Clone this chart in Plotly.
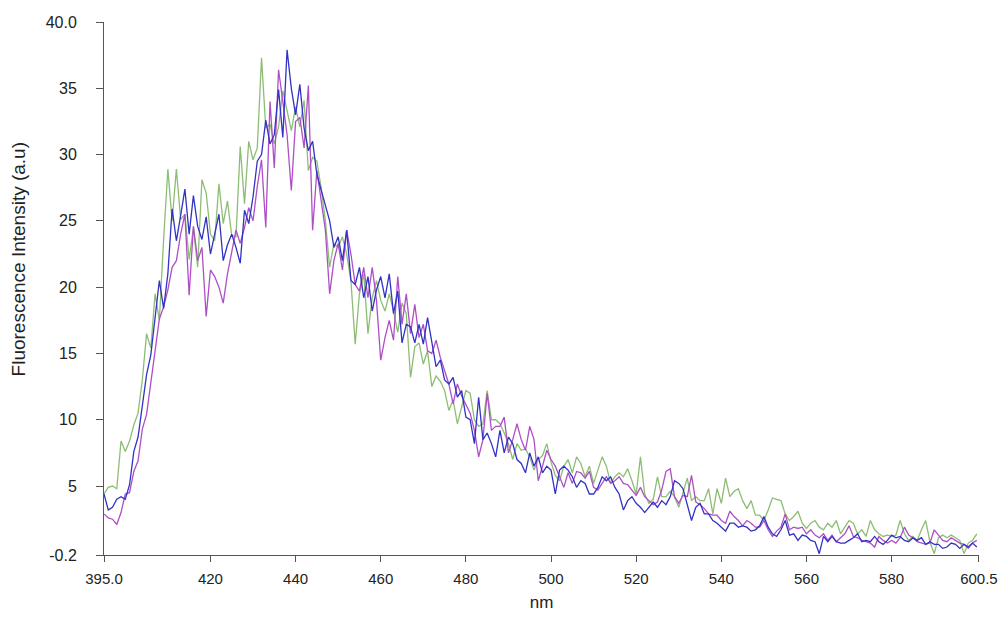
import numpy as np
import plotly.graph_objects as go

# Emission wavelengths (nm), 1 nm steps
wavelength = np.arange(395, 601)

green_series = [
    4.4, 4.9, 5.0, 4.8, 8.4, 7.6, 8.4, 9.6, 10.5, 13.0,
    16.5, 15.4, 19.5, 17.5, 23.6, 28.9, 25.0, 28.9, 25.1, 25.5,
    22.1, 24.5, 21.5, 28.1, 27.1, 24.0, 23.5, 27.8, 24.8, 26.5,
    23.9, 23.8, 30.6, 26.3, 31.0, 29.6, 30.5, 37.3, 32.0, 32.3,
    30.8, 32.1, 34.8, 33.3, 31.8, 33.6, 32.1, 34.1, 28.8, 29.8,
    29.5, 27.5, 25.0, 21.5, 23.3, 23.0, 23.8, 22.5, 20.5, 15.7,
    19.5, 21.0, 16.5, 19.2, 20.5, 19.0, 18.2, 19.5, 18.2, 16.6,
    18.8, 18.0, 13.2, 15.5, 15.8, 14.2, 15.2, 12.5, 13.3, 12.9,
    12.2, 10.7, 11.5, 9.7, 11.0, 12.2, 12.0, 10.0, 9.5, 9.7,
    12.2, 10.0, 10.0, 9.7, 9.0, 8.2, 7.0, 8.2, 7.7, 7.8,
    7.2, 6.2, 7.0, 7.3, 8.2, 6.8, 5.8, 5.4, 6.5, 7.0,
    6.0, 7.2, 6.7, 5.7, 6.5, 5.2, 6.2, 7.2, 6.5, 5.2,
    5.7, 6.0, 5.7, 6.3, 5.4, 4.4, 7.2, 4.4, 3.7, 4.0,
    5.7, 4.2, 4.2, 4.6, 4.2, 3.4, 4.5, 5.6, 3.9, 4.2,
    3.9, 3.9, 4.8, 2.9, 4.8, 3.7, 5.6, 4.2, 4.6, 4.8,
    3.9, 3.3, 3.9, 2.8, 2.8, 2.4, 3.2, 4.1, 4.0, 3.9,
    2.9, 2.4, 2.7, 3.1, 2.2, 1.8, 2.2, 2.4, 1.9, 1.7,
    2.2, 1.9, 2.4, 1.4, 1.9, 2.4, 2.2, 1.4, 1.7, 1.2,
    2.4, 1.7, 1.4, 1.2, 1.3, 1.2, 1.3, 2.4, 1.4, 0.9,
    1.2, 0.9, 1.7, 2.4, 0.8, -0.1, 1.1, 1.3, 1.1, 1.3,
    1.1, 0.9, -0.1, 0.7, 0.9, 1.4,
]

purple_series = [
    2.9, 2.6, 2.5, 2.1, 3.0, 4.4, 4.5, 6.1, 6.9, 9.3,
    10.4, 13.0, 15.2, 17.6, 18.5, 19.8, 21.5, 22.0, 24.0, 25.5,
    19.4, 24.6, 22.0, 23.0, 17.8, 21.3, 20.8, 20.0, 18.8, 21.0,
    22.8, 24.3, 23.3, 24.5, 26.0, 25.0, 27.6, 29.6, 24.5, 34.0,
    29.0, 36.4, 34.0, 31.5, 27.3, 32.5, 32.8, 30.5, 35.2, 24.3,
    28.8, 26.5, 24.3, 19.5, 22.0, 23.3, 21.3, 24.3, 22.5, 20.2,
    19.7, 21.5, 19.2, 21.5, 19.0, 14.5, 16.2, 17.5, 16.0, 20.8,
    17.2, 19.5, 16.5, 18.7, 16.2, 17.2, 15.2, 15.0, 16.0, 14.7,
    13.7, 12.7, 11.2, 12.7, 11.8, 11.2, 10.5, 9.2, 7.2, 8.5,
    12.0, 9.2, 9.5, 9.5, 10.2, 7.5, 8.5, 9.7, 8.5, 7.7,
    9.5, 8.5, 5.4, 6.5, 7.7, 7.0, 6.5, 5.7, 4.9, 6.0,
    5.2, 6.1, 6.0, 5.6, 6.1, 4.9, 4.7, 5.2, 5.7, 5.2,
    5.4, 5.7, 5.2, 5.1, 4.7, 4.3, 4.9, 4.2, 3.9, 3.6,
    3.8, 4.7, 6.1, 6.3, 4.2, 3.7, 4.3, 4.2, 5.8, 3.8,
    3.6, 3.3, 2.9, 2.8, 2.8, 2.4, 2.2, 3.1, 2.7, 2.4,
    2.0, 2.4, 2.2, 1.9, 1.9, 2.4, 1.7, 1.2, 1.6, 1.9,
    2.9, 1.7, 1.9, 1.8, 1.9, 1.4, 1.7, 1.3, 1.1, 1.4,
    0.9, 1.3, 0.8, 1.1, 1.4, 2.0, 1.2, 1.1, 0.9, 0.8,
    0.7, 0.4, 1.2, 0.9, 0.7, 0.9, 0.7, 1.1, 1.9, 1.3,
    1.1, 0.8, 0.7, 0.6, 0.7, 1.7, 1.3, 0.9, 0.8, 1.1,
    0.9, 0.7, 0.6, 0.3, 0.7, 0.9,
]

blue_series = [
    4.4, 3.2, 3.4, 4.0, 4.2, 4.0, 5.1, 7.6, 8.7, 10.9,
    13.4, 14.9, 17.8, 20.5, 18.4, 21.0, 25.9, 23.5, 25.4, 27.4,
    24.0, 26.9, 24.6, 23.6, 25.3, 22.5, 24.0, 25.5, 22.0, 23.2,
    24.0, 23.0, 21.8, 25.8, 24.8, 26.8, 29.5, 30.0, 32.6, 30.8,
    31.5, 34.9, 31.3, 37.9, 35.0, 33.0, 35.3, 32.0, 30.3, 31.0,
    28.5, 27.3, 26.0, 25.0, 23.0, 23.8, 22.0, 24.3, 20.5, 20.2,
    21.5, 19.2, 20.8, 18.2, 19.8, 20.8, 19.2, 21.0, 18.0, 19.7,
    15.8, 17.2, 17.0, 15.8, 17.2, 15.7, 17.7, 15.8, 14.0, 14.5,
    13.0, 12.7, 13.2, 11.7, 12.2, 10.2, 10.0, 8.2, 11.7, 8.5,
    9.0, 8.2, 7.2, 9.2, 7.5, 8.7, 8.2, 7.0, 6.7, 6.0,
    7.5, 6.5, 7.2, 6.0, 6.5, 6.2, 4.4, 6.2, 6.5, 6.2,
    5.7, 4.9, 5.4, 5.2, 4.4, 4.4, 4.9, 5.7, 5.4, 5.7,
    4.9, 4.4, 3.2, 3.9, 4.2, 3.7, 3.4, 3.0, 3.4, 3.8,
    3.4, 3.9, 3.6, 4.2, 5.4, 5.2, 4.8, 3.6, 2.4, 3.4,
    3.7, 2.9, 2.9, 2.4, 2.2, 1.9, 1.6, 2.2, 2.2, 1.9,
    2.0, 1.9, 1.6, 1.7, 2.0, 2.7, 1.9, 1.4, 1.2, 1.7,
    2.4, 1.3, 1.4, 0.9, 1.3, 1.2, 0.9, 0.8, -0.1, 1.2,
    0.8, 1.2, 0.8, 0.7, 0.7, 0.9, 1.1, 1.4, 0.8, 0.9,
    0.8, 1.2, 0.8, 0.6, 0.9, 1.3, 1.1, 1.2, 0.9, 0.8,
    1.1, 0.9, 1.1, 0.6, 0.8, 0.6, 0.6, 0.3, 0.4, 0.7,
    0.6, 0.3, 0.6, 0.4, 0.7, 0.4,
]

y_tick_values = [-0.2, 5, 10, 15, 20, 25, 30, 35, 40.0]
y_tick_labels = ["-0.2", "5", "10", "15", "20", "25", "30", "35", "40.0"]
x_tick_values = [395.0, 420, 440, 460, 480, 500, 520, 540, 560, 580, 600.5]
x_tick_labels = ["395.0", "420", "440", "460", "480", "500", "520", "540", "560", "580", "600.5"]

series = [
    ("green", green_series, "#8dbd74"),
    ("purple", purple_series, "#ae4fc6"),
    ("blue", blue_series, "#3232c4"),
]

fig = go.Figure()
for name, values, color in series:
    fig.add_trace(go.Scatter(
        x=wavelength, y=values, mode="lines", name=name,
        line=dict(color=color, width=1.3),
    ))

axis_font = dict(family="Liberation Sans, Arial, sans-serif", size=16, color="#222222")

fig.update_layout(
    width=1000, height=617,
    margin=dict(l=104, r=21, t=22, b=62, autoexpand=False),
    paper_bgcolor="white", plot_bgcolor="white",
    showlegend=False,
    font=axis_font,
)
fig.update_xaxes(
    range=[395, 600.52], tickmode="array",
    tickvals=x_tick_values, ticktext=x_tick_labels,
    tickfont=dict(size=15),
    showgrid=False, zeroline=False, automargin=False,
    showline=True, linecolor="#555555", linewidth=1,
    ticks="outside", ticklen=6, tickcolor="#555555",
    ticklabelstandoff=4, ticklabeloverflow="allow",
    title=dict(text="nm", font=dict(size=17), standoff=10),
)
fig.update_yaxes(
    range=[-0.2, 40.0], tickmode="array",
    tickvals=y_tick_values, ticktext=y_tick_labels,
    showgrid=False, zeroline=False, automargin=False,
    showline=True, linecolor="#555555", linewidth=1,
    ticks="outside", ticklen=7, tickcolor="#555555",
    ticklabelstandoff=16,
)

# Vertical axis caption, placed in the left margin
fig.add_annotation(
    text="Fluorescence Intensity (a.u)", textangle=-90,
    xref="paper", yref="paper", x=-0.098, y=0.555,
    xanchor="center", yanchor="middle", showarrow=False,
    font=dict(size=19),
)

fig.write_html("out.html")
